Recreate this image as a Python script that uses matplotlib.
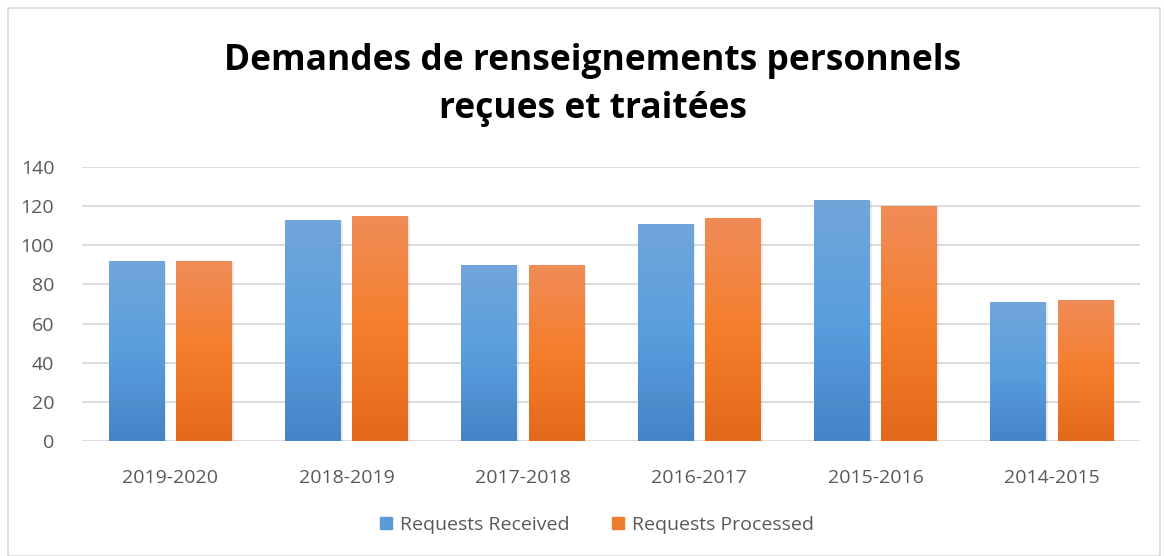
import matplotlib
matplotlib.use("Agg")
import matplotlib.pyplot as plt
import numpy as np
from matplotlib.colors import LinearSegmentedColormap
from matplotlib.patches import Rectangle

categories = ["2019-2020", "2018-2019", "2017-2018", "2016-2017", "2015-2016", "2014-2015"]
received = [92, 113, 90, 111, 123, 71]
processed = [92, 115, 90, 114, 120, 72]
series_names = ["Requests Received", "Requests Processed"]
yticks = [0, 20, 40, 60, 80, 100, 120, 140]

plt.rcParams['font.family'] = ['Open Sans', 'DejaVu Sans']

W, H = 1164, 556
fig = plt.figure(figsize=(W / 100, H / 100), dpi=100)
ax = fig.add_axes([82 / W, 1 - 441 / H, (1140 - 82) / W, (441 - 167) / H])

blue_cmap = LinearSegmentedColormap.from_list("b", ["#4584C6", "#5A9EDE", "#71A6DA"])
orange_cmap = LinearSegmentedColormap.from_list("o", ["#E2691A", "#F57E2C", "#F08C58"])

x = np.arange(len(categories))
bw = 0.316
off = 0.191
grad = np.linspace(0, 1, 256).reshape(-1, 1)

def gbar(xc, h, cmap):
    ax.bar(xc + 0.012, h, bw, bottom=-0.6, color="#000000", alpha=0.08, zorder=2, linewidth=0)
    b = ax.bar(xc, h, bw, color="none", zorder=3, linewidth=0)[0]
    im = ax.imshow(grad, cmap=cmap, origin="lower", aspect="auto",
                   extent=[xc - bw / 2, xc + bw / 2, 0, h], zorder=3)
    im.set_clip_path(b)
    return b

for i in range(len(categories)):
    gbar(x[i] - off, received[i], blue_cmap)
    gbar(x[i] + off, processed[i], orange_cmap)

ax.set_xlim(-0.5, len(categories) - 0.5)
ax.set_ylim(0, 140)
ax.set_yticks(yticks)
ax.set_xticks(x)
ax.set_xticklabels(categories)
ax.tick_params(axis="both", length=0, labelsize=14, colors="#595959")
ax.tick_params(axis="y", pad=20)
ax.tick_params(axis="x", pad=20)
ax.grid(axis="y", color="#D9D9D9", linewidth=1.3, zorder=0)
ax.set_axisbelow(True)
for s in ax.spines.values():
    s.set_visible(False)

fig.text(593 / W, 1 - 61 / H, "Demandes de renseignements personnels", ha="center", va="center",
         fontsize=25.5, fontweight="bold", color="#000000")
fig.text(593 / W, 1 - 109 / H, "reçues et traitées", ha="center", va="center",
         fontsize=25.5, fontweight="bold", color="#000000")

handles = [Rectangle((0, 0), 1, 1, color="#5B9BD5"), Rectangle((0, 0), 1, 1, color="#ED7D31")]
fig.legend(handles, series_names, loc="center", bbox_to_anchor=(597 / W, 1 - 525 / H), ncol=2,
           frameon=False, fontsize=14, labelcolor="#595959", handlelength=0.6, handleheight=0.6,
           columnspacing=2.2, handletextpad=0.4)

fig.patches.append(Rectangle((8 / W, 0), (W - 8 - 4) / W, 1 - 8 / H, transform=fig.transFigure,
                             fill=False, edgecolor="#D9D9D9", linewidth=1.2))

fig.savefig("out.png", dpi=100, facecolor="white")
